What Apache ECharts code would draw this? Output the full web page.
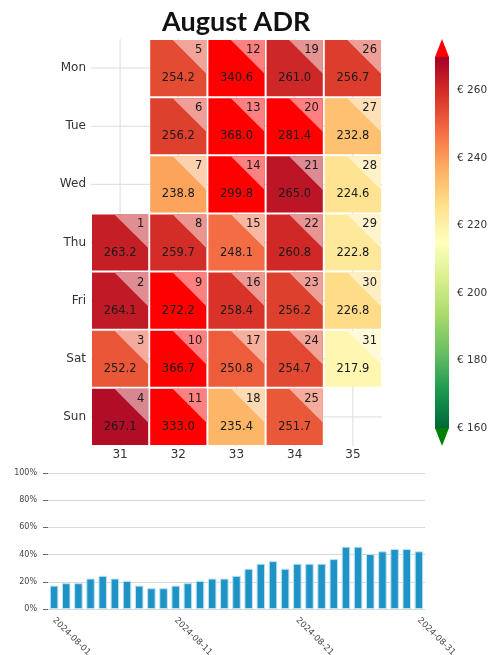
<!DOCTYPE html>
<html><head><meta charset="utf-8">
<script src="https://cdn.jsdelivr.net/npm/echarts@6/dist/echarts.min.js"></script>
<style>html,body{margin:0;padding:0;background:#fff}#c{width:504px;height:655px}</style>
</head><body><div id="c"></div>
<script>
// ---- data ----
const weeks = ['31', '32', '33', '34', '35'];
const weekdays = ['Mon', 'Tue', 'Wed', 'Thu', 'Fri', 'Sat', 'Sun'];
const days = [1,2,3,4,5,6,7,8,9,10,11,12,13,14,15,16,17,18,19,20,21,22,23,24,25,26,27,28,29,30,31];
const dayWeek = ['31','31','31','31','32','32','32','32','32','32','32','33','33','33','33','33','33','33','34','34','34','34','34','34','34','35','35','35','35','35','35'];
const dayWeekday = ['Thu','Fri','Sat','Sun','Mon','Tue','Wed','Thu','Fri','Sat','Sun','Mon','Tue','Wed','Thu','Fri','Sat','Sun','Mon','Tue','Wed','Thu','Fri','Sat','Sun','Mon','Tue','Wed','Thu','Fri','Sat'];
const adr = [263.2,264.1,252.2,267.1,254.2,256.2,238.8,259.7,272.2,366.7,333.0,340.6,368.0,299.8,248.1,258.4,250.8,235.4,261.0,281.4,265.0,260.8,256.2,254.7,251.7,256.7,232.8,224.6,222.8,226.8,217.9];
const dates = ['2024-08-01','2024-08-02','2024-08-03','2024-08-04','2024-08-05','2024-08-06','2024-08-07','2024-08-08','2024-08-09','2024-08-10','2024-08-11','2024-08-12','2024-08-13','2024-08-14','2024-08-15','2024-08-16','2024-08-17','2024-08-18','2024-08-19','2024-08-20','2024-08-21','2024-08-22','2024-08-23','2024-08-24','2024-08-25','2024-08-26','2024-08-27','2024-08-28','2024-08-29','2024-08-30','2024-08-31'];
const occupancy = [17.2,19.0,19.0,22.4,24.4,22.4,20.7,17.2,15.3,15.3,17.2,19.0,20.7,22.4,22.4,24.4,29.6,33.3,35.2,29.6,33.3,33.3,33.3,36.7,45.8,45.8,40.4,42.4,44.1,44.1,42.4];
const colorbarTicks = [160, 180, 200, 220, 240, 260];
const colorMin = 160, colorMax = 270;

// ---- colormap (RdYlGn reversed, over=red, under=green) ----
const cmapStops = ['#006837','#1a9850','#66bd63','#a6d96a','#d9ef8b','#ffffbf','#fee08b','#fdae61','#f46d43','#d73027','#a50026'];
function hex2rgb(h){return [parseInt(h.slice(1,3),16),parseInt(h.slice(3,5),16),parseInt(h.slice(5,7),16)];}
function rgb2str(c){return 'rgb('+c.map(v=>Math.round(v)).join(',')+')';}
function cmapRGB(v){
  if (v > colorMax) return [255,0,0];
  if (v < colorMin) return [0,128,0];
  const t = (v - colorMin) / (colorMax - colorMin) * (cmapStops.length - 1);
  const i = Math.min(Math.floor(t), cmapStops.length - 2);
  const f = t - i;
  const a = hex2rgb(cmapStops[i]), b = hex2rgb(cmapStops[i+1]);
  return [0,1,2].map(k => a[k] + (b[k]-a[k])*f);
}
function lighten(c){return c.map(v => v + (255 - v) * 0.5);}

const cellData = days.map((d, i) => [weeks.indexOf(dayWeek[i]), weekdays.indexOf(dayWeekday[i]), adr[i], d]);
const FONT = 'DejaVu Sans';

const chart = echarts.init(document.getElementById('c'));
chart.setOption({
  animation: false,
  backgroundColor: '#fff',
  title: {
    text: 'August ADR', left: 157, top: 4,
    textStyle: {fontFamily: 'Lato', fontWeight: 'bold', fontSize: 27, color: '#111'}
  },
  grid: [
    {left: 91, width: 291, top: 39, height: 407, outerBoundsMode: 'none'},
    {left: 435, width: 14, top: 57, height: 371, outerBoundsMode: 'none'},
    {left: 48, right: 79, top: 473, bottom: 46, outerBoundsMode: 'none'}
  ],
  xAxis: [
    {gridIndex: 0, type: 'category', data: weeks, axisLine: {show: false}, axisTick: {show: false},
     axisLabel: {fontFamily: FONT, fontSize: 12, color: '#333', margin: 3}},
    {gridIndex: 1, type: 'value', min: 0, max: 1, show: false},
    {gridIndex: 2, type: 'category', data: dates, axisLine: {show: false}, axisTick: {show: false},
     axisLabel: {interval: 9, rotate: -45, fontFamily: FONT, fontSize: 8.5, color: '#444', margin: 10}}
  ],
  yAxis: [
    {gridIndex: 0, type: 'category', data: weekdays, inverse: true, axisLine: {show: false}, axisTick: {show: false},
     axisLabel: {fontFamily: FONT, fontSize: 12, color: '#333', margin: 5}},
    {gridIndex: 1, type: 'value', min: colorMin, max: colorMax, position: 'right',
     axisLine: {show: false}, splitLine: {show: false},
     axisTick: {show: true, length: 4, lineStyle: {color: '#333'}, customValues: colorbarTicks},
     axisLabel: {customValues: colorbarTicks, formatter: '€ {value}', fontFamily: FONT, fontSize: 10.5, color: '#333', margin: 8}},
    {gridIndex: 2, type: 'value', min: 0, max: 100, interval: 20,
     axisLine: {show: false},
     axisTick: {show: true, length: 5, lineStyle: {color: '#666'}},
     splitLine: {lineStyle: {color: '#d9d9d9', width: 1}},
     axisLabel: {formatter: '{value}%', fontFamily: FONT, fontSize: 8, color: '#444', margin: 11}}
  ],
  series: [
    // grid lines at category centres (heatmap)
    {type: 'custom', xAxisIndex: 0, yAxisIndex: 0, z: 1, silent: true,
     data: weeks.map((w, i) => [i, 0]),
     renderItem: function (params, api) {
       const c = api.coord([api.value(0), 0]);
       const cs = params.coordSys;
       return {type: 'line', shape: {x1: c[0], y1: cs.y, x2: c[0], y2: cs.y + cs.height}, style: {stroke: '#dcdcdc', lineWidth: 1}};
     }},
    {type: 'custom', xAxisIndex: 0, yAxisIndex: 0, z: 1, silent: true,
     data: weekdays.map((w, i) => [0, i]),
     renderItem: function (params, api) {
       const c = api.coord([0, api.value(1)]);
       const cs = params.coordSys;
       return {type: 'line', shape: {x1: cs.x, y1: c[1], x2: cs.x + cs.width, y2: c[1]}, style: {stroke: '#dcdcdc', lineWidth: 1}};
     }},
    // calendar cells
    {type: 'custom', xAxisIndex: 0, yAxisIndex: 0, z: 3, silent: true,
     data: cellData,
     encode: {x: 0, y: 1},
     renderItem: function (params, api) {
       const c = api.coord([api.value(0), api.value(1)]);
       const s = api.size([1, 1]);
       const w = s[0] - 2, h = s[1] - 2;
       const x0 = c[0] - w / 2, y0 = c[1] - h / 2;
       const v = api.value(2), d = api.value(3);
       const col = cmapRGB(v);
       return {type: 'group', children: [
         {type: 'rect', shape: {x: x0, y: y0, width: w, height: h}, style: {fill: rgb2str(col)}},
         {type: 'polygon', shape: {points: [[x0 + 0.4 * w, y0], [x0 + w, y0], [x0 + w, y0 + 0.6 * h]]}, style: {fill: rgb2str(lighten(col))}},
         {type: 'text', x: x0 + w - 4, y: y0 + 10, style: {text: String(d), align: 'right', verticalAlign: 'middle', fill: '#1a1a1a', fontFamily: FONT, fontSize: 11.5}},
         {type: 'text', x: c[0], y: y0 + h * 0.68, style: {text: v.toFixed(1), align: 'center', verticalAlign: 'middle', fill: '#1a1a1a', fontFamily: FONT, fontSize: 11.5}}
       ]};
     }},
    // colorbar
    {type: 'custom', xAxisIndex: 1, yAxisIndex: 1, silent: true,
     data: [[0, colorMin, colorMax]],
     renderItem: function (params, api) {
       const top = api.coord([0, api.value(2)]);
       const bot = api.coord([1, api.value(1)]);
       const x0 = top[0], x1 = bot[0], y0 = top[1], y1 = bot[1];
       const stops = cmapStops.map((c, i) => ({offset: 1 - i / (cmapStops.length - 1), color: c}));
       stops.reverse();
       const tri = 18;
       return {type: 'group', children: [
         {type: 'rect', shape: {x: x0, y: y0, width: x1 - x0, height: y1 - y0},
          style: {fill: {type: 'linear', x: 0, y: 0, x2: 0, y2: 1, colorStops: stops}}},
         {type: 'polygon', shape: {points: [[x0, y0], [x1, y0], [(x0 + x1) / 2, y0 - tri]]}, style: {fill: '#ff0000'}},
         {type: 'polygon', shape: {points: [[x0, y1], [x1, y1], [(x0 + x1) / 2, y1 + tri]]}, style: {fill: '#008000'}}
       ]};
     }},
    // occupancy bars
    {type: 'bar', xAxisIndex: 2, yAxisIndex: 2, data: occupancy, barCategoryGap: '30%',
     itemStyle: {color: '#1f93c6', borderColor: '#bde2f2', borderWidth: 1}}
  ]
});
</script></body></html>
